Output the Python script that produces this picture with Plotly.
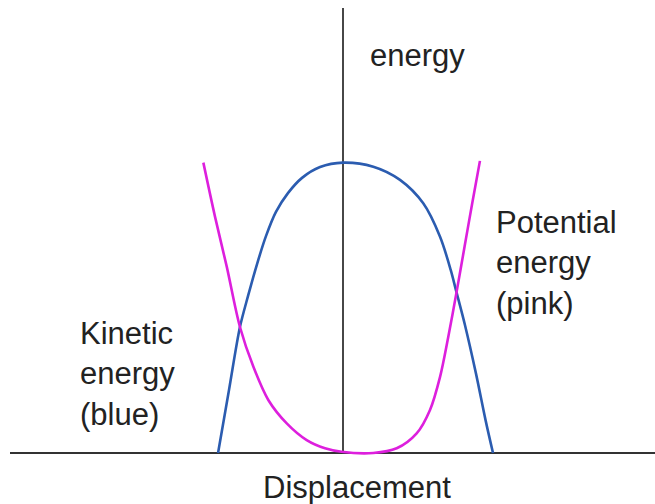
import plotly.graph_objects as go

# displacement (x) and energy (y), peak energy = 1
kinetic_x = [-0.833, -0.76, -0.687, -0.633, -0.573, -0.513, -0.447, -0.367, -0.273, -0.153, 0.0,
             0.202, 0.38, 0.535, 0.647, 0.718, 0.753, 0.813, 0.887, 0.95, 1.0]
kinetic_y = [0.0, 0.215, 0.43, 0.536, 0.645, 0.741, 0.823, 0.887, 0.939, 0.976, 0.991,
             0.977, 0.932, 0.852, 0.738, 0.625, 0.556, 0.437, 0.27, 0.113, 0.0]

potential_x = [-0.931, -0.853, -0.775, -0.687, -0.598, -0.498, -0.375, -0.242, -0.12, -0.009,
               0.202, 0.358, 0.491, 0.58, 0.647, 0.702, 0.757, 0.81, 0.863, 0.913]
potential_y = [0.991, 0.806, 0.636, 0.43, 0.295, 0.181, 0.101, 0.044, 0.016, 0.004,
               0.0, 0.016, 0.067, 0.147, 0.26, 0.397, 0.549, 0.703, 0.857, 0.997]

W, H = 655, 504
X0, Y0 = 343, 453      # pixel position of origin
SX, SY = 150, 293      # pixels per unit

fig = go.Figure()
fig.add_trace(go.Scatter(x=kinetic_x, y=kinetic_y, mode='lines',
                         line=dict(color='#2b5cb0', width=2.6, shape='spline', smoothing=0.9),
                         hoverinfo='skip'))
fig.add_trace(go.Scatter(x=potential_x, y=potential_y, mode='lines',
                         line=dict(color='#dd1fdd', width=2.6, shape='spline', smoothing=0.9),
                         hoverinfo='skip'))

# hand drawn axes
fig.add_shape(type='line', x0=(10 - X0) / SX, x1=(W - X0) / SX, y0=0, y1=0,
              line=dict(color='#333333', width=1.8), layer='below')
fig.add_shape(type='line', x0=0, x1=0, y0=0, y1=(Y0 - 8) / SY,
              line=dict(color='#333333', width=1.8), layer='below')


def label(text, px, py, xanchor='left'):
    fig.add_annotation(text=text, x=px / W, y=1 - py / H, xref='paper', yref='paper',
                       xanchor=xanchor, yanchor='middle', align='left', showarrow=False,
                       font=dict(family='Liberation Sans, Arial', size=31, color='#222222'))


label('energy', 368, 55)
label('Potential<br>energy<br>(pink)', 494, 263)
label('Kinetic<br>energy<br>(blue)', 78, 374)
label('Displacement', 357, 487, xanchor='center')

fig.update_xaxes(range=[-X0 / SX, (W - X0) / SX], visible=False)
fig.update_yaxes(range=[(Y0 - H) / SY, Y0 / SY], visible=False)
fig.update_layout(width=W, height=H, margin=dict(l=0, r=0, t=0, b=0),
                  showlegend=False, plot_bgcolor='white', paper_bgcolor='white')

fig.write_html("out.html", config={'displayModeBar': False},
               post_script="document.body.style.margin = '0';")
